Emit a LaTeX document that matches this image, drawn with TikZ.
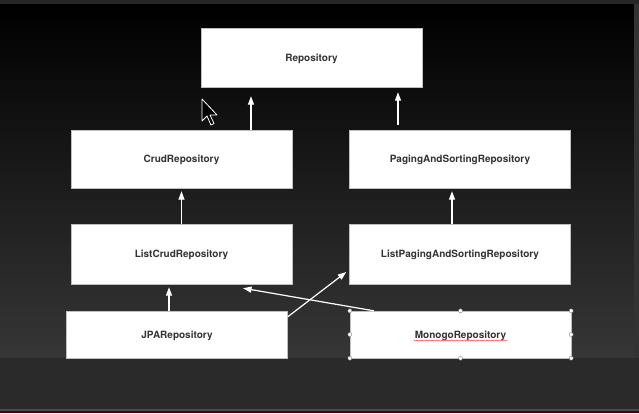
\documentclass[tikz,border=0pt]{standalone}
\usepackage{fontspec}
\setmainfont{TeX Gyre Heros}
\usetikzlibrary{arrows.meta,decorations.pathmorphing}

\definecolor{slidebottom}{HTML}{363636}
\definecolor{barbg}{HTML}{2A2A2A}
\definecolor{labeltext}{HTML}{333333}

\tikzset{
    repobox/.style={draw=gray!50, fill=white, minimum width=221pt, minimum height=59pt, inner sep=0pt,
        text depth=0pt, font=\bfseries\fontsize{10}{12}\selectfont, text=labeltext},
    inherit/.style={draw=white, line width=1.2pt, -{Triangle[length=8.5pt,width=6pt]}},
}

\begin{document}
\begin{tikzpicture}[x=1pt, y=-1pt]
    \useasboundingbox (0,0) rectangle (639,413);
    % slide and window
    \fill[black!85] (0,0) rectangle (639,4);
    \shade[top color=black, bottom color=slidebottom] (0,4) rectangle (634,358);
    \fill[gray!40!black] (634,4) rectangle (639,358);
    \fill[barbg] (0,358) rectangle (639,409);
    \fill[black!70] (0,409) rectangle (639,411);
    \fill[red!30!black] (0,411) rectangle (639,413);

    \node [repobox] (repo) at (311.5, 57.5) {Repository};
    \node [repobox, minimum height=58pt] (crud) at (181.5, 159) {CrudRepository};
    \node [repobox, minimum height=58pt] (pas) at (460, 159) {PagingAndSortingRepository};
    \node [repobox, minimum height=60pt] (lcrud) at (181.5, 254) {ListCrudRepository};
    \node [repobox, minimum height=60pt] (lpas) at (460, 254) {ListPagingAndSortingRepository};
    \node [repobox, minimum height=47pt] (jpa) at (177, 334.5) {JPARepository};
    \node [repobox, minimum height=47pt] (mongo) at (460.5, 334.5) {MonogoRepository};

    \draw [inherit, shorten >=9pt] ([xshift=69.5pt]crud.north) -- ([xshift=69.5pt]crud.north |- repo.south);
    \draw [inherit, shorten >=5pt, shorten <=5pt] ([xshift=-62pt]pas.north) -- ([xshift=-62pt]pas.north |- repo.south);
    \draw [inherit, shorten >=3pt] (lcrud.north) -- (crud.south);
    \draw [inherit, shorten >=3pt] ([xshift=-8pt]lpas.north) -- ([xshift=-8pt]pas.south);
    \draw [inherit, shorten >=3pt] ([xshift=-8pt]jpa.north) -- ([xshift=-8pt]jpa.north |- lcrud.south);
    \draw [inherit] ([yshift=-6pt]jpa.north east) -- ([xshift=-3pt,yshift=-18pt]lpas.west);
    \draw [inherit] ([xshift=24pt]mongo.north west) -- ([xshift=61.5pt,yshift=-4pt]lcrud.south);

    % selection on the mongo box
    \draw [red!70, line width=0.5pt, decorate, decoration={snake, amplitude=0.6pt, segment length=2.5pt}]
        ([xshift=-47pt,yshift=-6pt]mongo.center) -- ([xshift=47pt,yshift=-6pt]mongo.center);
    \foreach \a in {north west, north, north east, east, south east, south, south west, west}
        \filldraw [fill=white, draw=gray, line width=0.4pt] (mongo.\a) circle [radius=2pt];

    % mouse pointer
    \filldraw [fill=black, draw=white, line width=0.8pt, line join=round]
        (202, 99) -- ++(0, 22) -- ++(5, -5) -- ++(4, 9) -- ++(3, -1.5) -- ++(-4, -8.5) -- ++(7, 0) -- cycle;
\end{tikzpicture}
\end{document}
